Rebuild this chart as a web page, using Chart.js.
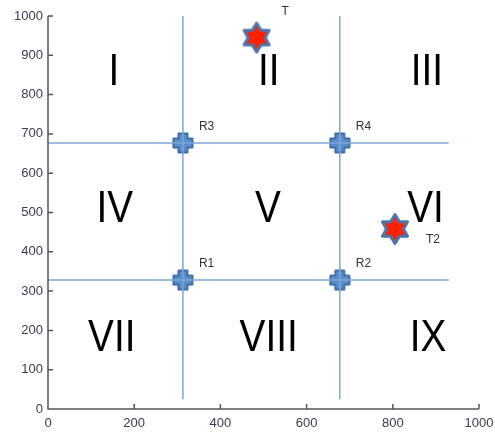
<!DOCTYPE html>
<html>
<head>
<meta charset="utf-8">
<script src="https://cdn.jsdelivr.net/npm/chart.js@4/dist/chart.umd.min.js"></script>
<style>
  html, body { margin: 0; padding: 0; background: #fff; }
  #wrap { width: 495px; height: 433px; }
</style>
</head>
<body>
<div id="wrap"><canvas id="chart" width="495" height="433"></canvas></div>
<script>
// axis ticks
const xTicks = [0, 200, 400, 600, 800, 1000];
const yTicks = [0, 100, 200, 300, 400, 500, 600, 700, 800, 900, 1000];

// grid lines dividing the field
const vLineX = [313, 677];
const vLineY = [25, 1000];
const hLineY = [328, 677];
const hLineX = [0, 930];

// receivers
const rNames = ['R1', 'R2', 'R3', 'R4'];
const rX = [313, 677, 313, 677];
const rY = [328, 328, 677, 677];

// targets
const tNames = ['T', 'T2'];
const tX = [484, 805];
const tY = [945, 458];

// region numerals
const regionNames = ['I', 'II', 'III', 'IV', 'V', 'VI', 'VII', 'VIII', 'IX'];
const regionX = [153, 512, 879, 155, 510, 876, 148, 512, 882];
const regionY = [861, 861, 861, 511, 511, 511, 184, 184, 184];

const lineColor = '#7ea6d8';

// plus marker for receivers
function makePlus() {
  const c = document.createElement('canvas');
  c.width = 22; c.height = 22;
  const g = c.getContext('2d');
  const m = 11, a = 4.5, b = 9.5;
  g.beginPath();
  g.moveTo(m - a, m - b); g.lineTo(m + a, m - b); g.lineTo(m + a, m - a);
  g.lineTo(m + b, m - a); g.lineTo(m + b, m + a); g.lineTo(m + a, m + a);
  g.lineTo(m + a, m + b); g.lineTo(m - a, m + b); g.lineTo(m - a, m + a);
  g.lineTo(m - b, m + a); g.lineTo(m - b, m - a); g.lineTo(m - a, m - a);
  g.closePath();
  g.lineJoin = 'round';
  g.fillStyle = '#5b8fcc';
  g.fill();
  g.lineWidth = 2;
  g.strokeStyle = '#3d6ca6';
  g.stroke();
  return c;
}

// six pointed star for targets
function makeStar() {
  const c = document.createElement('canvas');
  c.width = 34; c.height = 34;
  const g = c.getContext('2d');
  const cx = 17, cy = 17, ro = 14.5, ri = 8.5;
  g.beginPath();
  for (let i = 0; i < 12; i++) {
    const r = i % 2 === 0 ? ro : ri;
    const ang = -Math.PI / 2 + i * Math.PI / 6;
    const px = cx + r * Math.cos(ang), py = cy + r * Math.sin(ang);
    if (i === 0) g.moveTo(px, py); else g.lineTo(px, py);
  }
  g.closePath();
  g.lineJoin = 'round';
  g.fillStyle = '#ff2200';
  g.fill();
  g.lineWidth = 3;
  g.strokeStyle = '#4f74aa';
  g.stroke();
  return c;
}

const plusImg = makePlus();
const starImg = makeStar();

function segs(xs, ys) {
  return xs.map((x, i) => ({ x: x, y: ys[i] }));
}

const datasets = [];
vLineX.forEach(x => datasets.push({
  type: 'line', data: [{ x: x, y: vLineY[0] }, { x: x, y: vLineY[1] }],
  borderColor: lineColor, borderWidth: 1.5, pointRadius: 0, fill: false
}));
hLineY.forEach(y => datasets.push({
  type: 'line', data: [{ x: hLineX[0], y: y }, { x: hLineX[1], y: y }],
  borderColor: lineColor, borderWidth: 1.5, pointRadius: 0, fill: false
}));
datasets.push({
  type: 'scatter', data: segs(rX, rY), names: rNames,
  pointStyle: plusImg, labelOffset: [20, -16]
});
datasets.push({
  type: 'scatter', data: segs(tX, tY), names: tNames,
  pointStyle: starImg, labelOffsets: [[29, -26], [35, 11]]
});

// inward tick marks, point names and region numerals
const decor = {
  id: 'decor',
  afterDatasetsDraw(chart) {
    const ctx = chart.ctx;
    const xs = chart.scales.x, ys = chart.scales.y;
    const area = chart.chartArea;
    ctx.save();
    ctx.strokeStyle = '#555';
    ctx.lineWidth = 1.5;
    ctx.beginPath();
    ctx.moveTo(area.left, area.top);
    ctx.lineTo(area.left, area.bottom);
    ctx.lineTo(area.right, area.bottom);
    xTicks.forEach(v => {
      const p = xs.getPixelForValue(v);
      ctx.moveTo(p, area.bottom); ctx.lineTo(p, area.bottom - 5);
    });
    yTicks.forEach(v => {
      const p = ys.getPixelForValue(v);
      ctx.moveTo(area.left, p); ctx.lineTo(area.left + 5, p);
    });
    ctx.stroke();

    ctx.fillStyle = '#333';
    ctx.font = '12px "Liberation Sans", Arial, sans-serif';
    ctx.textAlign = 'left';
    ctx.textBaseline = 'middle';
    chart.data.datasets.forEach((ds, di) => {
      if (!ds.names) return;
      const meta = chart.getDatasetMeta(di);
      meta.data.forEach((pt, i) => {
        const off = ds.labelOffsets ? ds.labelOffsets[i] : ds.labelOffset;
        ctx.fillText(ds.names[i], pt.x + off[0] - 4, pt.y + off[1]);
      });
    });

    ctx.fillStyle = '#000';
    ctx.font = '44px "Liberation Sans", Arial, sans-serif';
    ctx.textAlign = 'center';
    ctx.textBaseline = 'middle';
    regionNames.forEach((n, i) => {
      const px = xs.getPixelForValue(regionX[i]);
      const py = ys.getPixelForValue(regionY[i]) + 2;
      ctx.save();
      ctx.translate(px, py);
      ctx.scale(0.88, 1);
      ctx.fillText(n, 0, 0);
      ctx.restore();
    });
    ctx.restore();
  }
};

const tickFont = { family: '"Liberation Sans", Arial, sans-serif', size: 13 };

new Chart(document.getElementById('chart'), {
  type: 'scatter',
  data: { datasets: datasets },
  options: {
    responsive: false,
    animation: false,
    layout: { padding: { top: 16, right: 16, left: 0, bottom: 0 } },
    plugins: { legend: { display: false }, tooltip: { enabled: false } },
    scales: {
      x: {
        type: 'linear', min: 0, max: 1000,
        afterFit: s => { s.height = 24; s.paddingLeft = 0; s.paddingRight = 0; },
        afterBuildTicks: s => { s.ticks = xTicks.map(v => ({ value: v })); },
        grid: { display: false, drawTicks: false },
        border: { display: false },
        ticks: {
          padding: 7, color: '#3a3a50', maxRotation: 0, font: tickFont,
          callback: v => String(v)
        }
      },
      y: {
        type: 'linear', min: 0, max: 1000,
        afterFit: s => { s.width = 48; s.paddingTop = 0; s.paddingBottom = 0; },
        afterBuildTicks: s => { s.ticks = yTicks.map(v => ({ value: v })); },
        grid: { display: false, drawTicks: false },
        border: { display: false },
        ticks: {
          padding: 5, color: '#3a3a50', font: tickFont,
          callback: v => String(v)
        }
      }
    }
  },
  plugins: [decor]
});
</script>
</body>
</html>
